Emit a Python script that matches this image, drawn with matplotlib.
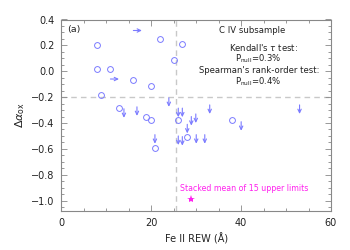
import matplotlib
matplotlib.use("Agg")
import matplotlib.pyplot as plt
from matplotlib.ticker import MultipleLocator

# Detections (open circles)
det_x = [7.9, 7.9, 10.9, 8.9, 16.0, 20.0, 22.0, 26.9, 25.0, 12.8, 18.9, 20.0, 20.9, 26.0, 28.0, 38.0]
det_y = [0.20, 0.015, 0.018, -0.18, -0.07, -0.115, 0.25, 0.21, 0.085, -0.287, -0.356, -0.38, -0.59, -0.377, -0.51, -0.38]

# Upper limits in delta alpha_ox (down arrows)
ul_x = [13.9, 16.8, 20.8, 23.9, 26.0, 26.9, 28.9, 29.9, 28.0, 33.0, 26.0, 26.9, 30.0, 31.9, 40.0, 53.0]
ul_y = [-0.29, -0.275, -0.49, -0.205, -0.285, -0.285, -0.35, -0.33, -0.41, -0.26, -0.50, -0.505, -0.49, -0.49, -0.39, -0.26]

# Lower limits in Fe II REW (right arrows)
ll_x = [10.9, 16.0]
ll_y = [-0.06, 0.315]

# Stacked mean
stack_x = [28.8]
stack_y = [-0.99]

blue = '#7b7bff'
mag = '#ff22ee'
gray = '#888888'

fig = plt.figure(figsize=(3.5, 2.5), dpi=100)
ax = fig.add_axes([0.1757, 0.156, 0.77, 0.766])

ax.axhline(-0.2, color='#c8c8c8', lw=1.0, ls=(0, (4, 3)), zorder=1)
ax.axvline(25.4, color='#c8c8c8', lw=1.0, ls=(0, (4, 3)), zorder=1)

ax.plot(det_x, det_y, 'o', mfc='none', mec=blue, ms=4.2, mew=0.7, zorder=3)

dlen = 0.07
for x, y in zip(ul_x, ul_y):
    ax.annotate('', xy=(x, y - dlen), xytext=(x, y),
                arrowprops=dict(arrowstyle='->,head_length=0.25,head_width=0.12',
                                color=blue, lw=0.8, shrinkA=0, shrinkB=0))
rlen = 1.9
for x, y in zip(ll_x, ll_y):
    ax.annotate('', xy=(x + rlen, y), xytext=(x, y),
                arrowprops=dict(arrowstyle='->,head_length=0.25,head_width=0.12',
                                color=blue, lw=0.8, shrinkA=0, shrinkB=0))

ax.plot(stack_x, stack_y, '*', color=mag, ms=6, mew=0, zorder=3)
ax.text(0.44, 0.115, 'Stacked mean of 15 upper limits', transform=ax.transAxes,
        color=mag, fontsize=5.7, ha='left', va='center')

ax.set_xlim(0, 60)
ax.set_ylim(-1.08, 0.4)
ax.xaxis.set_major_locator(MultipleLocator(20))
ax.xaxis.set_minor_locator(MultipleLocator(5))
ax.yaxis.set_major_locator(MultipleLocator(0.2))
ax.yaxis.set_minor_locator(MultipleLocator(0.05))
ax.yaxis.set_major_formatter(matplotlib.ticker.FuncFormatter(lambda v, p: f'{v:.1f}'.replace('-', '\u2212')))
ax.tick_params(which='both', direction='in', top=True, right=True, color=gray,
               labelsize=7, labelcolor='#222222', width=0.6)
ax.tick_params(which='major', length=4, pad=5)
ax.tick_params(which='minor', length=2)
for s in ax.spines.values():
    s.set_color(gray)
    s.set_linewidth(0.8)

ax.set_xlabel('Fe II REW (Å)', fontsize=7, color='#222222', labelpad=4)
ax.set_ylabel(r'$\Delta\alpha_{\rm ox}$', fontsize=8, color='#222222', labelpad=3)

ax.text(0.02, 0.97, '(a)', transform=ax.transAxes, fontsize=6.8, va='top', ha='left', color='#222222')
tk = dict(transform=ax.transAxes, fontsize=6.1, ha='center', va='center', color='#222222')
ax.text(0.707, 0.945, 'C IV subsample', **tk)
ax.text(0.748, 0.853, r"Kendall's $\tau$ test:", **tk)
ax.text(0.73, 0.795, r'P$_{\rm null}$=0.3%', **tk)
ax.text(0.733, 0.733, "Spearman's rank-order test:", **tk)
ax.text(0.73, 0.673, r'P$_{\rm null}$=0.4%', **tk)

fig.savefig('out.png', dpi=100)
